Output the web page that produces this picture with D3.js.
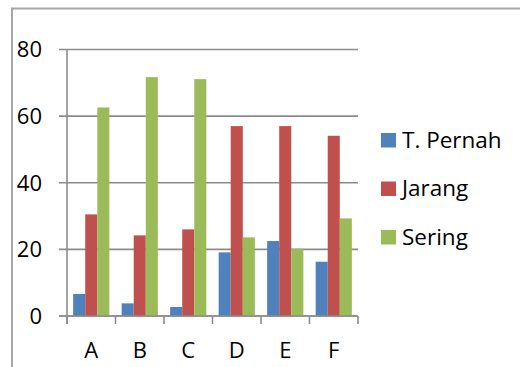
<!DOCTYPE html>
<html>
<head>
<meta charset="utf-8">
<script src="https://cdn.jsdelivr.net/npm/d3@7"></script>
<style>
  html, body { margin: 0; padding: 0; background: #fff; }
  svg { display: block; font-family: "Open Sans", Lato, sans-serif; }
</style>
</head>
<body>
<svg id="chart" width="520" height="367"></svg>
<script>
// Categories and series
const categories = ["A", "B", "C", "D", "E", "F"];
const seriesNames = ["T. Pernah", "Jarang", "Sering"];
const tPernah = [6.6, 3.8, 2.7, 19.1, 22.5, 16.3];
const jarang  = [30.5, 24.2, 26.0, 57.0, 57.0, 54.1];
const sering  = [62.6, 71.7, 71.1, 23.6, 20.2, 29.3];
const yTicks  = [0, 20, 40, 60, 80];
const colors  = ["#4f81bd", "#c0504d", "#9bbb59"];

(function () {
  const seriesValues = [tPernah, jarang, sering];
  const rows = categories.map((c, i) => ({
    cat: c,
    values: seriesNames.map((s, j) => ({ key: s, value: seriesValues[j][i], idx: j }))
  }));

  const svg = d3.select("#chart");
  const fontSize = 22;

  // Outer frame (left and top edges)
  svg.append("path")
    .attr("d", "M12,367 L12,8.5 L520,8.5")
    .attr("fill", "none")
    .attr("stroke", "#a6a6a6")
    .attr("stroke-width", 2);

  const plotLeft = 67, plotRight = 358, plotTop = 49.5, plotBottom = 316;

  const x = d3.scaleBand().domain(categories).range([plotLeft, plotRight]).paddingInner(0).paddingOuter(0);
  const y = d3.scaleLinear().domain([0, 80]).range([plotBottom, plotTop]);
  const xInner = d3.scaleBand().domain(seriesNames).range([0, x.bandwidth()]).paddingInner(0).paddingOuter(0.51);

  const gridColor = "#8c8c8c";

  // Horizontal gridlines with short left ticks
  svg.append("g")
    .selectAll("line")
    .data(yTicks)
    .join("line")
    .attr("x1", plotLeft - 8)
    .attr("x2", plotRight)
    .attr("y1", d => y(d))
    .attr("y2", d => y(d))
    .attr("stroke", gridColor)
    .attr("stroke-width", 1.6);

  // Y tick labels
  svg.append("g")
    .selectAll("text")
    .data(yTicks)
    .join("text")
    .attr("x", 42)
    .attr("y", d => y(d))
    .attr("dy", "0.36em")
    .attr("text-anchor", "end")
    .attr("font-size", fontSize)
    .attr("fill", "#000")
    .text(d => d);

  // Bars
  svg.append("g")
    .selectAll("g")
    .data(rows)
    .join("g")
    .attr("transform", d => `translate(${x(d.cat)},0)`)
    .selectAll("rect")
    .data(d => d.values)
    .join("rect")
    .attr("x", d => xInner(d.key))
    .attr("width", xInner.bandwidth())
    .attr("y", d => y(d.value))
    .attr("height", d => y(0) - y(d.value))
    .attr("fill", d => colors[d.idx]);

  // Left axis line
  svg.append("line")
    .attr("x1", plotLeft).attr("x2", plotLeft)
    .attr("y1", plotTop).attr("y2", plotBottom + 8)
    .attr("stroke", gridColor)
    .attr("stroke-width", 1.6);

  // X axis baseline
  svg.append("line")
    .attr("x1", plotLeft - 8).attr("x2", plotRight)
    .attr("y1", plotBottom).attr("y2", plotBottom)
    .attr("stroke", gridColor)
    .attr("stroke-width", 1.6);

  // Category boundary ticks
  const boundaries = categories.map(c => x(c)).concat([plotRight]);
  svg.append("g")
    .selectAll("line")
    .data(boundaries)
    .join("line")
    .attr("x1", d => d).attr("x2", d => d)
    .attr("y1", plotBottom).attr("y2", plotBottom + 8)
    .attr("stroke", gridColor)
    .attr("stroke-width", 1.6);

  // Category labels
  svg.append("g")
    .selectAll("text")
    .data(categories)
    .join("text")
    .attr("x", d => x(d) + x.bandwidth() / 2)
    .attr("y", 358)
    .attr("text-anchor", "middle")
    .attr("font-size", fontSize)
    .attr("fill", "#000")
    .text(d => d);

  // Legend
  const legend = svg.append("g")
    .selectAll("g")
    .data(seriesNames)
    .join("g")
    .attr("transform", (d, i) => `translate(381,${133 + i * 48.5})`);

  legend.append("rect")
    .attr("width", 15)
    .attr("height", 14.5)
    .attr("fill", (d, i) => colors[i]);

  legend.append("text")
    .attr("x", 21)
    .attr("y", 14.8)
    .attr("font-size", 22.5)
    .attr("fill", "#000")
    .text(d => d);
})();
</script>
</body>
</html>
